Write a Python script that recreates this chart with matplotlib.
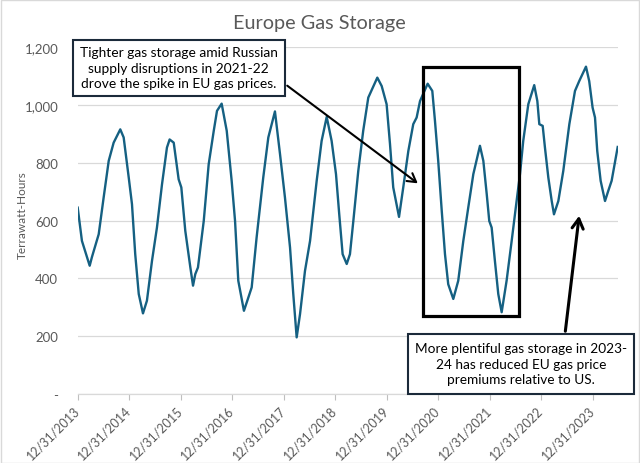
import matplotlib
matplotlib.use("Agg")
import matplotlib.pyplot as plt
import pandas as pd
from matplotlib.patches import Rectangle

# ---------------- data ----------------
dates = [
    "2013-12-31", "2014-01-30", "2014-03-26", "2014-04-11", "2014-05-29", "2014-07-03",
    "2014-08-08", "2014-09-12", "2014-10-29", "2014-11-22", "2014-12-28", "2015-01-20",
    "2015-02-12", "2015-03-09", "2015-04-08", "2015-05-06", "2015-06-11", "2015-07-16",
    "2015-08-21", "2015-09-25", "2015-10-14", "2015-11-12", "2015-12-17", "2016-01-05",
    "2016-02-02", "2016-03-09", "2016-03-28", "2016-04-13", "2016-05-02", "2016-06-12",
    "2016-07-17", "2016-08-22", "2016-09-14", "2016-10-17", "2016-11-22", "2016-12-27",
    "2017-01-20", "2017-02-12", "2017-03-24", "2017-04-17", "2017-05-18", "2017-06-22",
    "2017-08-08", "2017-09-13", "2017-10-30", "2017-12-05", "2018-01-09", "2018-02-14",
    "2018-03-09", "2018-04-02", "2018-04-26", "2018-05-31", "2018-07-06", "2018-08-22",
    "2018-09-26", "2018-11-01", "2018-12-06", "2019-01-06", "2019-01-29", "2019-02-22",
    "2019-03-23", "2019-04-15", "2019-05-09", "2019-06-13", "2019-07-18", "2019-08-23",
    "2019-10-26", "2019-11-26", "2019-12-31", "2020-01-24", "2020-02-16", "2020-03-28",
    "2020-04-27", "2020-06-02", "2020-07-07", "2020-07-31", "2020-08-24", "2020-10-17",
    "2020-11-19", "2020-12-08", "2020-12-31", "2021-01-25", "2021-02-17", "2021-03-12",
    "2021-04-17", "2021-05-22", "2021-06-27", "2021-08-01", "2021-09-06", "2021-10-23",
    "2021-11-16", "2021-12-10", "2021-12-28", "2022-01-14", "2022-02-06", "2022-03-02",
    "2022-03-26", "2022-04-30", "2022-06-05", "2022-07-10", "2022-08-03", "2022-08-26",
    "2022-10-01", "2022-11-12", "2022-12-04", "2022-12-18", "2023-01-11", "2023-01-27",
    "2023-02-20", "2023-03-16", "2023-04-01", "2023-05-02", "2023-06-06", "2023-07-19",
    "2023-08-28", "2023-09-27", "2023-11-14", "2023-12-07", "2023-12-31", "2024-01-17",
    "2024-02-02", "2024-02-26", "2024-03-28", "2024-04-20", "2024-05-14", "2024-06-26",
]
storage_twh = [
    645, 530, 444, 474, 553, 680,
    807, 870, 916, 888, 749, 657,
    484, 346, 279, 323, 461, 576,
    726, 853, 881, 870, 743, 715,
    565, 438, 375, 415, 438, 599,
    795, 911, 980, 1005, 911, 738,
    599, 392, 288, 323, 369, 542,
    749, 888, 978, 830, 680, 507,
    346, 196, 277, 426, 530, 738,
    876, 959, 876, 761, 622, 484,
    450, 484, 599, 772, 911, 1026,
    1095, 1066, 1003, 865, 715, 613,
    715, 841, 934, 957, 1014, 1074,
    1049, 945, 807, 634, 484, 380,
    329, 392, 530, 645, 761, 859,
    807, 692, 599, 576, 461, 346,
    283, 392, 530, 668, 761, 876,
    1003, 1069, 1014, 934, 928, 853,
    749, 668, 622, 668, 772, 934,
    1049, 1083, 1133, 1083, 991, 957,
    841, 738, 668, 703, 738, 855,
]
tick_dates = ["2013-12-31", "2014-12-31", "2015-12-31", "2016-12-31", "2017-12-31",
              "2018-12-31", "2019-12-31", "2020-12-31", "2021-12-31", "2022-12-31",
              "2023-12-31"]
tick_labels = ["12/31/2013", "12/31/2014", "12/31/2015", "12/31/2016", "12/31/2017",
               "12/31/2018", "12/31/2019", "12/31/2020", "12/31/2021", "12/31/2022",
               "12/31/2023"]
y_ticks = [0, 200, 400, 600, 800, 1000, 1200]
y_tick_labels = ["-", "200", "400", "600", "800", "1,000", "1,200"]

title = "Europe Gas Storage"
y_label = "Terrawatt-Hours"
note_1 = "Tighter gas storage amid Russian\nsupply disruptions in 2021-22\ndrove the spike in EU gas prices."
note_2 = "More plentiful gas storage in 2023-\n24 has reduced EU gas price\npremiums relative to US."

# ---------------- figure ----------------
W, H = 640, 464
FONT = ["Lato", "DejaVu Sans"]
GRAY = "#595959"
LINE = "#156082"

fig = plt.figure(figsize=(W / 100, H / 100), dpi=100)


def fx(px):
    return px / W


def fy(py):
    return 1 - py / H


ax = fig.add_axes([fx(77.7), fy(395), fx(617.7) - fx(77.7), fy(48.3) - fy(395)])

x = pd.to_datetime(dates)
ax.plot(x, storage_twh, color=LINE, lw=1.7, solid_joinstyle="round")
ax.set_xlim(x[0], x[-1])
ax.set_ylim(0, 1200)

ax.set_yticks(y_ticks)
ax.set_yticklabels(y_tick_labels, fontsize=9.5, color=GRAY, family=FONT)
ax.tick_params(axis="y", length=0, pad=14)
ax.yaxis.grid(True, color="#d9d9d9", lw=0.9)
ax.set_axisbelow(True)

ax.set_xticks(pd.to_datetime(tick_dates))
ax.set_xticklabels(tick_labels, rotation=45, ha="right", va="center",
                   rotation_mode="anchor", fontsize=9, color=GRAY, family=FONT)
ax.tick_params(axis="x", length=4, color="#bfbfbf", width=0.8, pad=6)
for lbl in ax.get_xticklabels():
    lbl.set_x(lbl.get_position()[0])

for s in ["left", "right", "top"]:
    ax.spines[s].set_visible(False)
ax.spines["bottom"].set_color("#d9d9d9")
ax.spines["bottom"].set_linewidth(0.9)

fig.text(fx(319.5), fy(24), title, ha="center", va="center", fontsize=14.3,
         color=GRAY, family=FONT)
fig.text(fx(22), fy(215), y_label, ha="center", va="center", rotation=90,
         fontsize=8.5, color=GRAY, family=FONT)


# annotation boxes
def note(x0, y0, x1, y1, txt, fs):
    fig.patches.append(Rectangle((fx(x0), fy(y1)), fx(x1) - fx(x0), fy(y0) - fy(y1),
                                 transform=fig.transFigure, facecolor="white",
                                 edgecolor="#1b2a3a", lw=1.5, zorder=5))
    fig.text(fx((x0 + x1) / 2), fy((y0 + y1) / 2), txt, ha="center", va="center",
             fontsize=fs, color="black", family=FONT, linespacing=1.35, zorder=6)


note(72.7, 41, 285, 96.7, note_1, 9.9)
note(407.7, 335, 634, 395, note_2, 9.8)

# highlight rectangle
fig.patches.append(Rectangle((fx(422.7), fy(316.7)), fx(519) - fx(422.7), fy(68.3) - fy(316.7),
                             transform=fig.transFigure, facecolor="none",
                             edgecolor="black", lw=2.3, zorder=4))

# arrows
fig.add_artist(matplotlib.patches.FancyArrowPatch(
    (fx(285), fy(85)), (fx(420), fy(186)), transform=fig.transFigure,
    arrowstyle="->,head_length=6,head_width=3.5", color="black", lw=1.5,
    mutation_scale=1, zorder=4))
fig.add_artist(matplotlib.patches.FancyArrowPatch(
    (fx(565), fy(335)), (fx(579.5), fy(214)), transform=fig.transFigure,
    arrowstyle="->,head_length=7,head_width=4", color="black", lw=2.2,
    mutation_scale=1, zorder=4))

# outer chart border
fig.patches.append(Rectangle((0.001, 0.001), 0.998, 0.997, transform=fig.transFigure,
                             facecolor="none", edgecolor="#d9d9d9", lw=1.0))

fig.savefig("out.png", dpi=100)
